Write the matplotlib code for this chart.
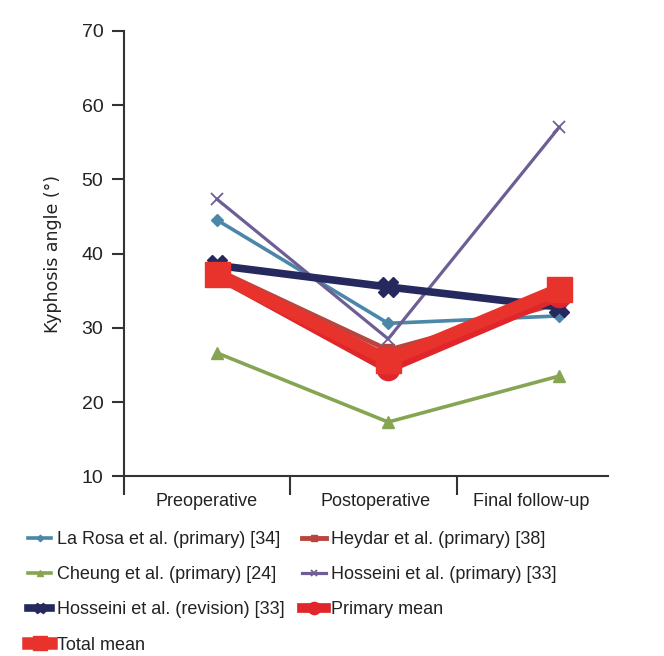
import matplotlib
matplotlib.use("Agg")
import matplotlib.pyplot as plt
from matplotlib import font_manager

# data
categories = ["Preoperative", "Postoperative", "Final follow-up"]
la_rosa = [44.5, 30.6, 31.6]
heydar = [37.8, 27.0, 33.3]
cheung = [26.6, 17.3, 23.5]
hosseini_primary = [47.3, 28.5, 57.0]
hosseini_revision = [38.4, 35.5, 32.8]
primary_mean = [37.1, 24.5, 34.3]
total_mean = [37.2, 25.6, 35.2]

names = ["Liberation Sans Narrow", "Liberation Sans", "DejaVu Sans"]
have = {f.name for f in font_manager.fontManager.ttflist}
narrow = [n for n in names if n in have] or ["DejaVu Sans"]
plt.rcParams['font.family'] = narrow

fig = plt.figure(figsize=(6.64, 6.56), dpi=100)
ax = fig.add_axes([0.187, 0.274, 0.729, 0.679])

x = [0, 1, 2]
h_larosa, = ax.plot(x, la_rosa, color="#4a87a9", lw=2.6, marker="D", ms=6,
                    label="La Rosa et al. (primary) [34]")
h_heydar, = ax.plot(x, heydar, color="#b8463e", lw=3.5, marker="s", ms=9,
                    label="Heydar et al. (primary) [38]")
h_cheung, = ax.plot(x, cheung, color="#86a552", lw=2.6, marker="^", ms=8,
                    label="Cheung et al. (primary) [24]")
h_hprim, = ax.plot(x, hosseini_primary, color="#6e5e95", lw=2.3, marker="x", ms=8,
                   mew=1.3, label="Hosseini et al. (primary) [33]")
h_hrev, = ax.plot(x, hosseini_revision, color="#25295e", lw=5.5, marker="X", ms=14,
                  label="Hosseini et al. (revision) [33]")
h_pmean, = ax.plot(x, primary_mean, color="#e0262b", lw=7, marker="o", ms=16,
                   label="Primary mean")
h_tmean, = ax.plot(x, total_mean, color="#e8322c", lw=9, marker="s", ms=18,
                   label="Total mean")

ax.set_ylim(10, 70)
ax.set_yticks(range(10, 71, 10))
ax.set_xlim(-0.544, 2.287)
ax.set_xticks([-0.544, 0.427, 1.404])
ax.set_xticklabels([])
ax.set_xticks([-0.064, 0.924, 1.836], minor=True)
ax.set_xticklabels(categories, minor=True)
ax.tick_params(axis="x", which="major", length=14, width=1.5, color="#333333")
ax.tick_params(axis="x", which="minor", length=0, pad=12, labelsize=13, labelcolor="#222222")
ax.tick_params(axis="y", length=9, width=1.5, color="#333333", labelsize=14,
               labelcolor="#222222", pad=6)

for side in ["top", "right"]:
    ax.spines[side].set_visible(False)
for side in ["left", "bottom"]:
    ax.spines[side].set_color("#333333")
    ax.spines[side].set_linewidth(1.5)

ax.set_ylabel("Kyphosis angle (°)", fontsize=12.5, family="DejaVu Sans",
              color="#222222", labelpad=14)

handles = [h_larosa, h_cheung, h_hrev, h_tmean, h_heydar, h_hprim, h_pmean]
fig.legend(handles=handles, labels=[h.get_label() for h in handles],
           loc="upper left", bbox_to_anchor=(0.042, 0.19), ncol=2, frameon=False,
           fontsize=13, handlelength=1.3, handletextpad=0.3, columnspacing=1.0,
           labelspacing=1.0, markerscale=0.55, labelcolor="#222222",
           borderaxespad=0, borderpad=0)

fig.savefig("out.png", dpi=100)
